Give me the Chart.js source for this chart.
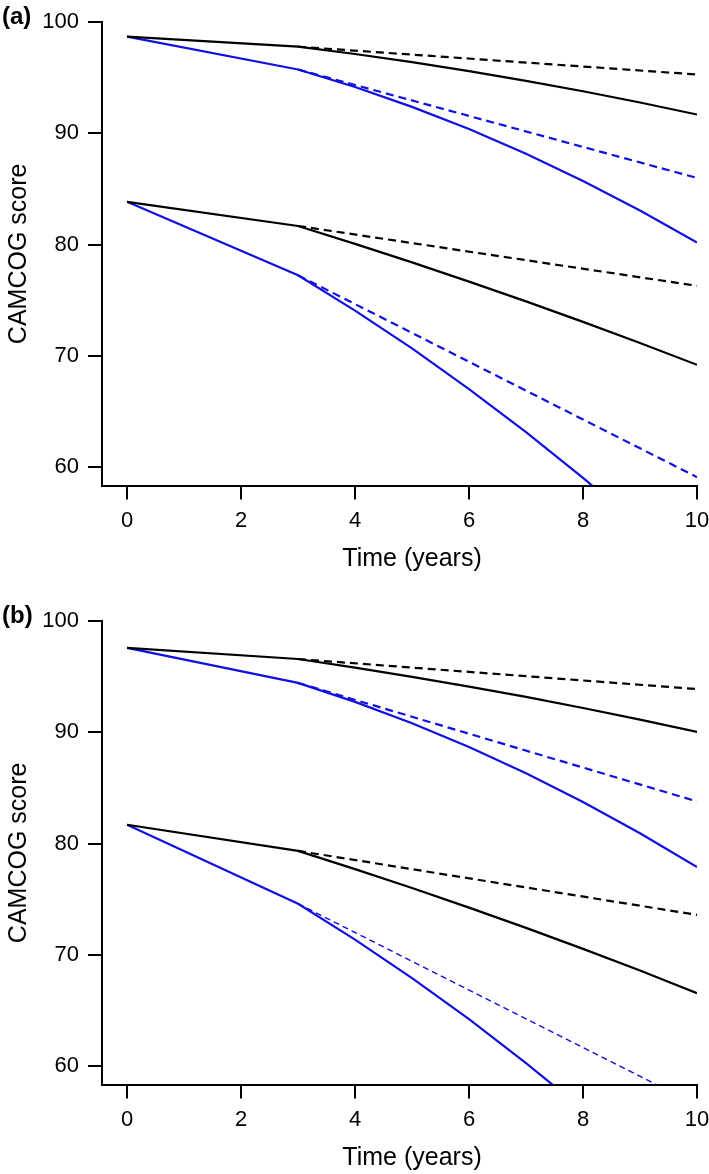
<!DOCTYPE html>
<html>
<head>
<meta charset="utf-8">
<script src="https://cdn.jsdelivr.net/npm/chart.js@4.4.1/dist/chart.umd.min.js"></script>
<style>
  html, body { margin: 0; padding: 0; background: #fff; overflow: hidden; }
  .panel { position: relative; width: 709px; height: 599px; }
</style>
</head>
<body>
<div class="panel"><canvas id="chartA"></canvas></div>
<div class="panel"><canvas id="chartB"></canvas></div>
<script>
// time points (years)
const tSolid = [0, 3, 4, 5, 6, 7, 8, 9, 10];
const tDash = [3, 10];
const xTicks = [0, 2, 4, 6, 8, 10];
const yTicks = [60, 70, 80, 90, 100];
const xTitle = 'Time (years)';
const yTitle = 'CAMCOG score';

// panel (a)
const aBlackHigh = [98.7, 97.8, 97.14, 96.41, 95.6, 94.73, 93.79, 92.78, 91.7];
const aBlackHighDash = [97.8, 95.3];
const aBlueHigh = [98.7, 95.75, 94.18, 92.39, 90.39, 88.17, 85.73, 83.07, 80.2];
const aBlueHighDash = [95.75, 86.0];
const aBlackLow = [83.85, 81.68, 80.07, 78.41, 76.68, 74.9, 73.06, 71.16, 69.2];
const aBlackLowDash = [81.68, 76.3];
const aBlueLow = [83.85, 77.25, 74.07, 70.67, 67.02, 63.15, 59.04, 54.7, 50.1];
const aBlueLowDash = [77.25, 59.1];

// panel (b)
const bBlackHigh = [97.6, 96.6, 95.83, 95.0, 94.12, 93.19, 92.2, 91.15, 90.05];
const bBlackHighDash = [96.6, 93.9];
const bBlueHigh = [97.6, 94.45, 92.75, 90.83, 88.69, 86.33, 83.75, 80.94, 77.9];
const bBlueHighDash = [94.45, 83.8];
const bBlackLow = [81.7, 79.35, 77.71, 76.01, 74.25, 72.43, 70.54, 68.59, 66.56];
const bBlackLowDash = [79.35, 73.6];
const bBlueLow = [81.7, 74.6, 71.38, 67.92, 64.22, 60.28, 56.1, 51.7, 47.1];
const bBlueLowDash = [74.6, 56.5];

const BLUE = '#1010e0';
const FONT = '"Liberation Sans", Arial, Helvetica, sans-serif';

Chart.defaults.font.family = FONT;
Chart.defaults.color = '#000';

function pts(xs, ys) {
  return xs.map((x, i) => ({ x: x, y: ys[i] }));
}

function solid(xs, ys, color) {
  return { data: pts(xs, ys), borderColor: color, borderWidth: 2.2, pointRadius: 0, tension: 0 };
}

function dashed(xs, ys, color, width, dash) {
  return { data: pts(xs, ys), borderColor: color, borderWidth: width || 2.2,
           borderDash: dash || [8, 5], pointRadius: 0, tension: 0 };
}

const panelText = {
  id: 'panelText',
  afterDraw(chart, args, opts) {
    const ctx = chart.ctx;
    const x = chart.scales.x;
    ctx.save();
    ctx.fillStyle = '#000';
    ctx.textBaseline = 'middle';
    ctx.textAlign = 'center';
    ctx.font = '25px ' + FONT;
    // R centres the label on the plot region, which runs a bit past 10
    ctx.fillText(xTitle, x.getPixelForValue(5), chart.chartArea.bottom + 74);
    ctx.textAlign = 'left';
    ctx.font = 'bold 24px ' + FONT;
    ctx.fillText(opts.label, 2, 17);
    ctx.restore();
  }
};

function makeChart(id, label, datasets) {
  return new Chart(document.getElementById(id), {
    type: 'line',
    data: { datasets: datasets },
    plugins: [panelText],
    options: {
      responsive: true,
      maintainAspectRatio: false,
      animation: false,
      devicePixelRatio: 1,
      layout: { padding: { top: 22, right: 12, left: 0, bottom: 0 } },
      plugins: {
        legend: { display: false },
        tooltip: { enabled: false },
        panelText: { label: label }
      },
      scales: {
        x: {
          type: 'linear',
          min: -0.44,
          max: 10,
          afterFit: s => { s.height = 113.5; s.paddingLeft = 0; s.paddingRight = 0; },
          afterBuildTicks: s => { s.ticks = xTicks.map(v => ({ value: v })); },
          ticks: { font: { size: 22 }, padding: 8, maxRotation: 0 },
          grid: { drawOnChartArea: false, tickLength: 14, lineWidth: 2, color: '#000' },
          border: { display: true, width: 2, color: '#000' }
        },
        y: {
          type: 'linear',
          min: 58.35,
          max: 100,
          afterFit: s => { s.width = 102; },
          afterBuildTicks: s => { s.ticks = yTicks.map(v => ({ value: v })); },
          ticks: { font: { size: 22 }, padding: 9 },
          grid: { drawOnChartArea: false, tickLength: 14, lineWidth: 2, color: '#000' },
          border: { display: true, width: 2, color: '#000' },
          title: { display: true, text: yTitle, font: { size: 25 }, padding: { top: 4, bottom: 0 } }
        }
      }
    }
  });
}

makeChart('chartA', '(a)', [
  solid(tSolid, aBlackHigh, '#000'),
  dashed(tDash, aBlackHighDash, '#000'),
  solid(tSolid, aBlueHigh, BLUE),
  dashed(tDash, aBlueHighDash, BLUE),
  solid(tSolid, aBlackLow, '#000'),
  dashed(tDash, aBlackLowDash, '#000'),
  solid(tSolid, aBlueLow, BLUE),
  dashed(tDash, aBlueLowDash, BLUE)
]);

makeChart('chartB', '(b)', [
  solid(tSolid, bBlackHigh, '#000'),
  dashed(tDash, bBlackHighDash, '#000'),
  solid(tSolid, bBlueHigh, BLUE),
  dashed(tDash, bBlueHighDash, BLUE),
  solid(tSolid, bBlackLow, '#000'),
  dashed(tDash, bBlackLowDash, '#000'),
  solid(tSolid, bBlueLow, BLUE),
  dashed(tDash, bBlueLowDash, BLUE, 1.4, [6, 4])
]);
</script>
</body>
</html>
